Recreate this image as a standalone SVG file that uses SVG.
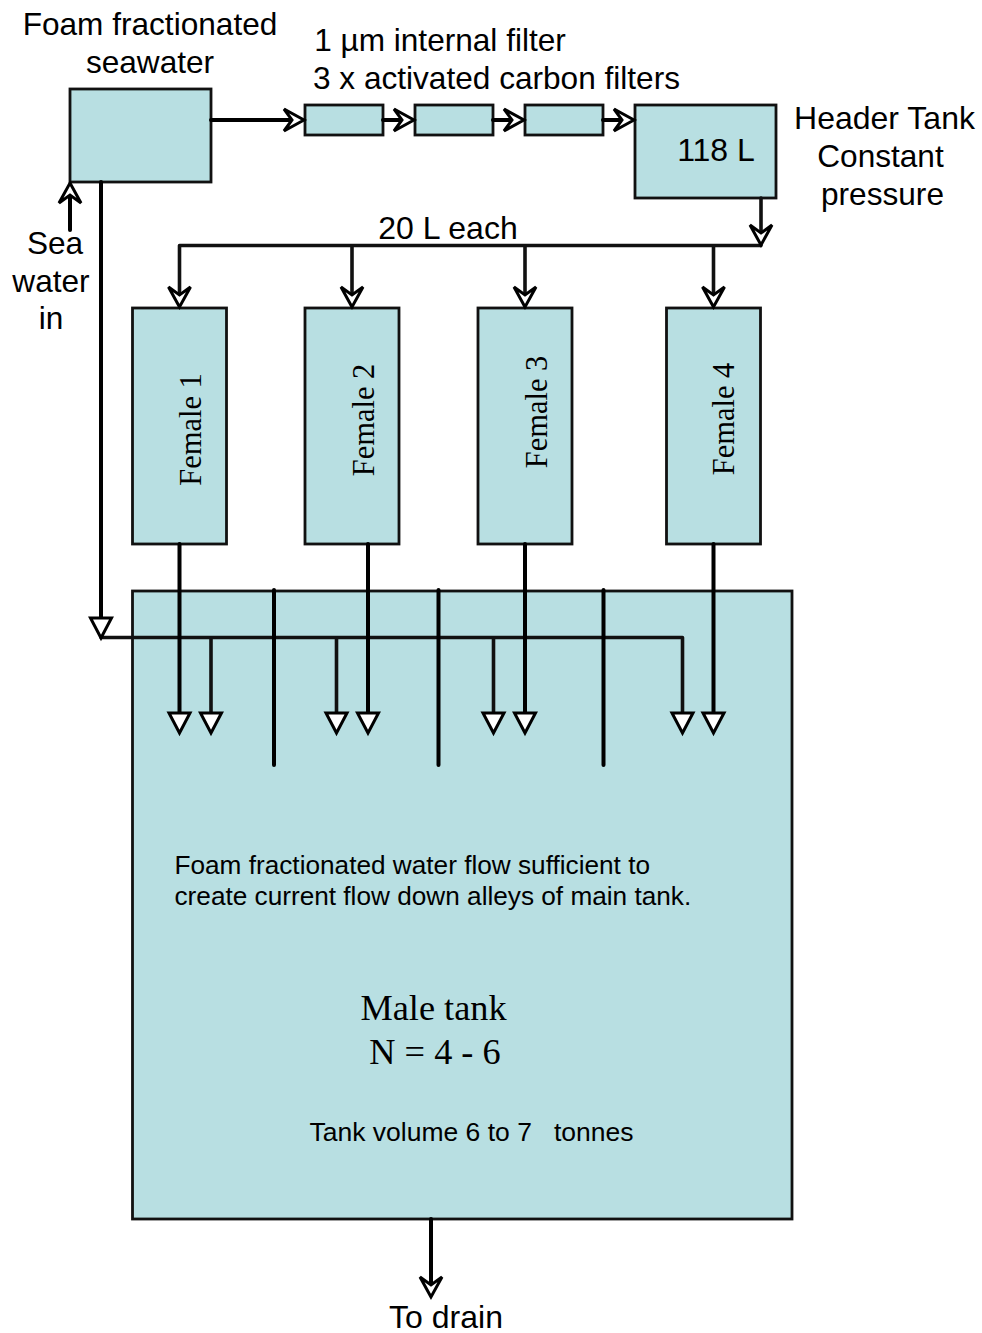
<svg xmlns="http://www.w3.org/2000/svg" width="982" height="1333" viewBox="0 0 982 1333">
<style>
.box{fill:#b8dfe2;stroke:#111;stroke-width:2.8}
.pipe{fill:none;stroke:#000;stroke-width:4;stroke-linecap:round}
.thin{fill:none;stroke:#111;stroke-width:3.6;stroke-linecap:round}
.tip{fill:#fff;stroke:#000;stroke-width:3;stroke-linejoin:miter}
.s{font-family:"Liberation Sans",Arial,sans-serif;fill:#000;text-anchor:middle}
.l{font-size:31.600px}
.m{font-size:26.200px}
.r{font-family:"Liberation Serif","Times New Roman",serif;fill:#000;text-anchor:middle}
</style>
<defs>
<polygon id="open" class="tip" points="0,-1 -11,-21 0,-13 11,-21"/>
<polygon id="tri" class="tip" points="0,0 -10.500,-20 10.500,-20"/>
</defs>
<rect width="982" height="1333" fill="#fff"/>
<g id="male-tank"><rect class="box" x="132.500" y="591" width="659.500" height="628"/>
<text class="s m" x="174.500" y="874" style="text-anchor:start">Foam fractionated water flow sufficient to</text>
<text class="s m" x="174.500" y="905" style="text-anchor:start">create current flow down alleys of main tank.</text>
<text class="r" x="433.500" y="1020" font-size="36.300">Male tank</text>
<text class="r" x="435" y="1064" font-size="36.300">N = 4 - 6</text>
<text class="s" x="471.500" y="1141" font-size="26.500" xml:space="preserve">Tank volume 6 to 7   tonnes</text></g>
<g id="foam-tank"><rect class="box" x="70" y="89" width="141" height="93"/>
<text class="s l" x="150" y="34.500">Foam fractionated</text>
<text class="s l" x="150" y="72.500">seawater</text></g>
<g id="filter-1"><rect class="box" x="305" y="105" width="78" height="30"/></g>
<g id="filter-2"><rect class="box" x="415" y="105" width="78" height="30"/></g>
<g id="filter-3"><rect class="box" x="525" y="105" width="78" height="30"/></g>
<g id="header-tank"><rect class="box" x="635" y="105" width="141" height="93"/>
<text class="s" x="716" y="161" font-size="32">118 L</text></g>
<g id="female-1"><rect class="box" x="132.500" y="308" width="94" height="236"/><text class="r" transform="translate(201 429.500) rotate(-90)" font-size="30.500">Female 1</text></g>
<g id="female-2"><rect class="box" x="305" y="308" width="94" height="236"/><text class="r" transform="translate(374 420) rotate(-90)" font-size="30.500">Female 2</text></g>
<g id="female-3"><rect class="box" x="478" y="308" width="94" height="236"/><text class="r" transform="translate(547 412) rotate(-90)" font-size="30.500">Female 3</text></g>
<g id="female-4"><rect class="box" x="666.500" y="308" width="94" height="236"/><text class="r" transform="translate(734 419) rotate(-90)" font-size="30.500">Female 4</text></g>
<g id="labels">
<text class="s l" x="440" y="50.500">1 µm internal filter</text>
<text class="s l" x="496.500" y="88.500">3 x activated carbon filters</text>
<text class="s" x="884.500" y="128.500" font-size="32">Header Tank</text>
<text class="s l" x="880.500" y="166.500">Constant</text>
<text class="s l" x="882.500" y="204.500">pressure</text>
<text class="s" x="448" y="238.500" font-size="32">20 L each</text>
<text class="s l" x="55" y="254">Sea</text>
<text class="s l" x="51" y="292">water</text>
<text class="s l" x="51" y="329">in</text>
<text class="s" x="446" y="1328" font-size="32">To drain</text>
</g>
<g id="connectors">
<path class="pipe" d="M211 120H298M383 120H408M493 120H518M603 120H628"/>
<path class="pipe" d="M70 230V190"/>
<path class="pipe" d="M101 182V625"/>
<path class="thin" d="M761 198V238M761 245.500H179.500M179.500 245.500V300M352 245.500V300M525 245.500V300M713.500 245.500V300"/>
<path class="thin" d="M101 637.500H682.500M682.500 637.500V715M211 637.500V715M336.500 637.500V715M493.500 637.500V715"/>
<path class="pipe" d="M179.500 544V715M368 544V715M525 544V715M713.500 544V715"/>
<path class="pipe" d="M274 590V765M438.500 590V765M603.500 590V765"/>
<path class="pipe" d="M431 1219V1290"/>
<use href="#open" transform="translate(305 120) rotate(-90)"/>
<use href="#open" transform="translate(415 120) rotate(-90)"/>
<use href="#open" transform="translate(525 120) rotate(-90)"/>
<use href="#open" transform="translate(635 120) rotate(-90)"/>
<use href="#open" transform="translate(70 182) rotate(180)"/>
<use href="#open" transform="translate(761 246)"/>
<use href="#open" transform="translate(179.500 308)"/>
<use href="#open" transform="translate(352 308)"/>
<use href="#open" transform="translate(525 308)"/>
<use href="#open" transform="translate(713.500 308)"/>
<use href="#open" transform="translate(431 1298)"/>
<use href="#tri" transform="translate(101 638)"/>
<use href="#tri" transform="translate(179.500 733)"/>
<use href="#tri" transform="translate(211 733)"/>
<use href="#tri" transform="translate(336.500 733)"/>
<use href="#tri" transform="translate(368 733)"/>
<use href="#tri" transform="translate(493.500 733)"/>
<use href="#tri" transform="translate(525 733)"/>
<use href="#tri" transform="translate(682.500 733)"/>
<use href="#tri" transform="translate(713.500 733)"/>
</g>
</svg>
